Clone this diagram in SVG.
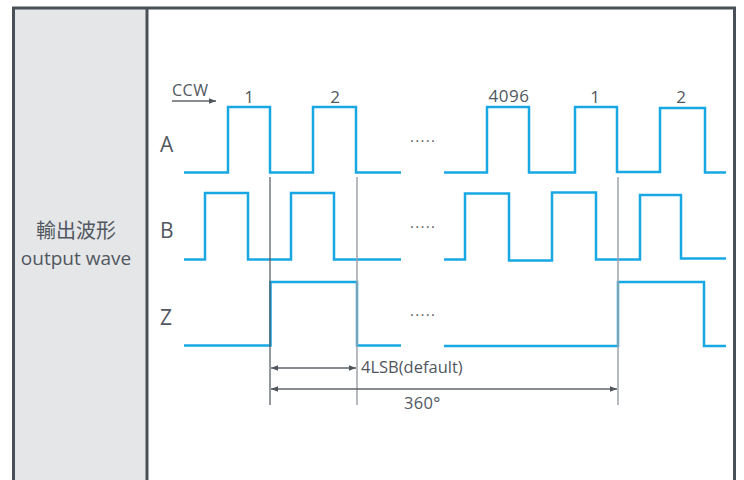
<svg xmlns="http://www.w3.org/2000/svg" width="744" height="480" viewBox="0 0 744 480">
<defs>
<style>
.t{font-family:"Open Sans","Noto Sans","Noto Sans CJK TC",sans-serif;fill:#515760}
.w{fill:none;stroke:#17a8e3;stroke-width:2.5}
.g1{stroke:#50555c;stroke-width:1.2}
.g2{stroke:#9fa3a8;stroke-width:1.5}
.d{stroke:#5f646b;stroke-width:1.3;fill:none}
.dots{font-family:"Open Sans",sans-serif;fill:#5a6068;font-size:15px;letter-spacing:1.3px}
</style>
<marker id="ah" viewBox="0 0 10 10" refX="10" refY="5" markerWidth="7" markerHeight="7" orient="auto-start-reverse" markerUnits="userSpaceOnUse">
<path d="M0,1 L10,5 L0,9 Z" fill="#50555c"/>
</marker>
</defs>
<rect x="0" y="0" width="744" height="480" fill="#fff"/>
<g id="frame">
<rect x="13" y="8" width="134" height="480" fill="#e5e6e8"/>
<path d="M13.5,490 V8 H734.5 V490" fill="none" stroke="#4a5058" stroke-width="3"/>
<line x1="147" y1="8" x2="147" y2="490" stroke="#4a5058" stroke-width="3"/>
</g>
<g id="label">
<text class="t" x="76" y="238" font-size="20" text-anchor="middle">輸出波形</text>
<text class="t" x="76" y="265" font-size="19" text-anchor="middle">output wave</text>
</g>
<g id="axis-labels">
<text class="t" x="160" y="152" font-size="21">A</text>
<text class="t" x="160" y="238" font-size="21">B</text>
<text class="t" x="160" y="325" font-size="21">Z</text>
<text class="t" x="172" y="96" font-size="16" letter-spacing="0.5">CCW</text>
<text class="t" x="249" y="103" font-size="17" text-anchor="middle">1</text>
<text class="t" x="335" y="103" font-size="17" text-anchor="middle">2</text>
<text class="t" x="509" y="102" font-size="17" text-anchor="middle" letter-spacing="0.5">4096</text>
<text class="t" x="595" y="103" font-size="17" text-anchor="middle">1</text>
<text class="t" x="681" y="103" font-size="17" text-anchor="middle">2</text>
<text class="dots" x="410" y="142">.....</text>
<text class="dots" x="410" y="228">.....</text>
<text class="dots" x="410" y="316">.....</text>
<text class="t" x="361" y="373" font-size="16.5">4LSB(default)</text>
<text class="t" x="404" y="409" font-size="16.5" letter-spacing="0.3">360°</text>
</g>
<g id="waveA">
<polyline class="w" points="184,172.5 228,172.5 228,107 270,107 270,172.5 313,172.5 313,107 356,107 356,172.5 401,172.5"/>
<polyline class="w" points="444,172.5 487,172.5 487,107 529,107 529,172.5 575,172.5 575,107 617,107 617,172 660,172 660,108 705,108 705,172.5 726,172.5"/>
</g>
<g id="waveB">
<polyline class="w" points="184,259.5 205,259.5 205,193 248,193 248,259.5 291,259.5 291,193 334,193 334,259.5 401,259.5"/>
<polyline class="w" points="444,259.5 465,259.5 465,193.5 509,193.5 509,260.5 552,260.5 552,192.5 596,192.5 596,259.5 640,259.5 640,195 681,195 681,258.5 726,258.5"/>
</g>
<g id="waveZ">
<polyline class="w" points="184,345.5 270.5,345.5 270.5,282 357,282 357,345.5 401,345.5"/>
<polyline class="w" points="444,346 618,346 618,282 704,282 704,346 726,346"/>
</g>
<g id="connectors">
<line class="g1" x1="270" y1="177" x2="270" y2="405"/>
<line class="g2" x1="357" y1="177" x2="357" y2="405"/>
<line class="g2" x1="618" y1="177" x2="618" y2="405"/>
<line class="d" x1="172" y1="101" x2="216" y2="101" marker-end="url(#ah)"/>
<line class="d" x1="271" y1="368" x2="356" y2="368" marker-start="url(#ah)" marker-end="url(#ah)"/>
<line class="d" x1="271" y1="389" x2="617" y2="389" marker-start="url(#ah)" marker-end="url(#ah)"/>
</g>
</svg>
